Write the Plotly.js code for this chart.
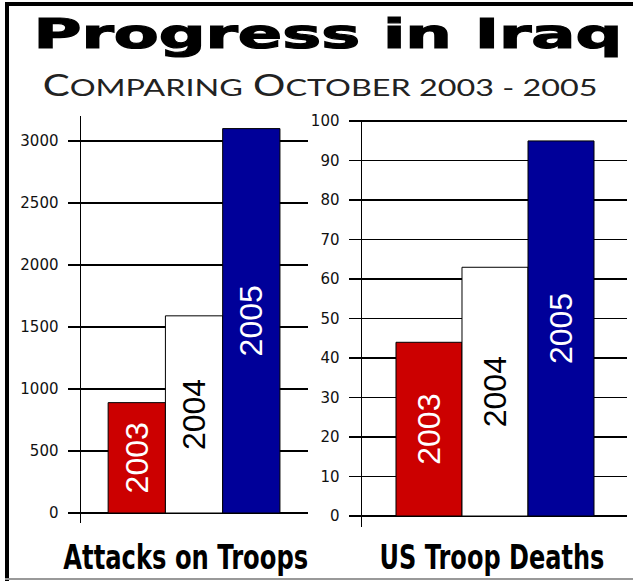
<!DOCTYPE html>
<html>
<head>
<meta charset="utf-8">
<script src="https://cdn.plot.ly/plotly-3.0.1.min.js"></script>
<style>
  html, body { margin: 0; padding: 0; background: #ffffff; }
  #chart { width: 633px; height: 581px; }
</style>
</head>
<body>
<div id="chart"></div>
<script>
// ---- data ----
const categories = ['2003', '2004', '2005'];
const attacks = [890, 1590, 3100];
const deaths = [44, 63, 95];
const barColors = ['#CC0000', '#FFFFFF', '#000099'];
const textColors = ['#FFFFFF', '#000000', '#FFFFFF'];
const attackTicks = [0, 500, 1000, 1500, 2000, 2500, 3000];
const deathTicks = [0, 10, 20, 30, 40, 50, 60, 70, 80, 90, 100];
const chartTitle = 'Progress in Iraq';
const chartSubtitle = 'C<span style="font-size:24px">OMPARING</span> O<span style="font-size:24px">CTOBER 2003 - 2005</span>';
const leftLabel = 'Attacks on Troops';
const rightLabel = 'US Troop Deaths';

const W = 633, H = 581;
const px = v => v / W;
const py = v => (H - v) / H;

function barTrace(values, xa, ya) {
  return {
    type: 'bar',
    x: categories,
    y: values,
    xaxis: xa,
    yaxis: ya,
    width: 1,
    marker: { color: barColors, line: { color: '#000000', width: 1 } },
    text: categories,
    textposition: 'inside',
    insidetextanchor: 'middle',
    textangle: -90,
    insidetextfont: { family: 'Liberation Sans, Arial, sans-serif', size: 32, color: textColors },
    hoverinfo: 'skip',
    showlegend: false
  };
}

const data = [barTrace(attacks, 'x', 'y'), barTrace(deaths, 'x2', 'y2')];

function yAxis(domain, range, ticks) {
  return {
    domain: domain,
    range: range,
    tickvals: ticks,
    ticktext: ticks.map(String),
    showline: true,
    linecolor: '#000000',
    linewidth: 1.5,
    ticks: 'outside',
    ticklen: 12,
    tickwidth: 1.5,
    tickcolor: '#000000',
    ticklabelstandoff: 6,
    showgrid: true,
    gridcolor: '#000000',
    gridwidth: 1.5,
    zeroline: false,
    tickfont: { family: 'DejaVu Sans, sans-serif', size: 15, color: '#111111' },
    fixedrange: true
  };
}

function xAxis(domain, range, anchor) {
  return {
    domain: domain,
    range: range,
    type: 'category',
    anchor: anchor,
    showticklabels: false,
    showgrid: false,
    zeroline: false,
    showline: false,
    ticks: '',
    fixedrange: true
  };
}

const labelFont = { family: 'DejaVu Sans, sans-serif', size: 34, weight: 'bold', color: '#000000' };

const layout = {
  width: W,
  height: H,
  margin: { l: 0, r: 0, t: 0, b: 0 },
  paper_bgcolor: '#FFFFFF',
  plot_bgcolor: 'rgba(0,0,0,0)',
  bargap: 0,
  xaxis: xAxis([px(81), px(308)], [-0.974, 2.99], 'y'),
  yaxis: Object.assign(yAxis([py(523), py(116)], [-80.6, 3201.6], attackTicks), { anchor: 'x' }),
  xaxis2: xAxis([px(362), px(627)], [-1.015, 3.0], 'y2'),
  yaxis2: Object.assign(yAxis([py(527), py(120)], [-2.78, 100.3], deathTicks), { anchor: 'x2' }),
  shapes: [
    { type: 'line', xref: 'paper', yref: 'paper', x0: px(7), x1: px(7), y0: py(2), y1: 0, line: { color: '#000000', width: 4 } },
    { type: 'line', xref: 'paper', yref: 'paper', x0: px(5), x1: 1, y0: py(4), y1: py(4), line: { color: '#000000', width: 4 } },
    { type: 'line', xref: 'paper', yref: 'paper', x0: px(5), x1: 1, y0: py(579), y1: py(579), line: { color: '#999999', width: 2 } }
  ],
  annotations: [
    { text: chartTitle, xref: 'paper', yref: 'paper', x: px(327.5), y: py(34), xanchor: 'center', yanchor: 'middle', showarrow: false, borderpad: 0,
      font: { family: 'DejaVu Sans, sans-serif', size: 40, weight: 'bold', color: '#000000' } },
    { text: chartSubtitle, xref: 'paper', yref: 'paper', x: px(319.5), y: py(84), xanchor: 'center', yanchor: 'middle', showarrow: false, borderpad: 0,
      font: { family: 'Lato, Noto Sans, sans-serif', size: 30, weight: 400, color: '#222222' } },
    { text: leftLabel, xref: 'paper', yref: 'paper', x: px(186), y: py(557), xanchor: 'center', yanchor: 'middle', showarrow: false, borderpad: 0,
      font: labelFont },
    { text: rightLabel, xref: 'paper', yref: 'paper', x: px(492), y: py(557), xanchor: 'center', yanchor: 'middle', showarrow: false, borderpad: 0,
      font: labelFont }
  ]
};

function stretchText(index, targetWidth, extra) {
  const ann = document.querySelectorAll('.annotation')[index];
  if (!ann) return;
  const t = ann.querySelector('text');
  if (!t) return;
  const bb = t.getBBox();
  const s = targetWidth / bb.width;
  const cx = bb.x + bb.width / 2;
  t.setAttribute('transform', 'translate(' + cx + ',0) scale(' + s + ',1) translate(' + (-cx) + ',0)');
  if (extra) extra(t);
}

Plotly.newPlot('chart', data, layout, { displayModeBar: false, staticPlot: true }).then(function () {
  stretchText(0, 589, function (t) { t.style.stroke = '#000000'; t.style.strokeWidth = '1.2px'; });
  stretchText(1, 555);
  stretchText(2, 245);
  stretchText(3, 225);
});
</script>
</body>
</html>
